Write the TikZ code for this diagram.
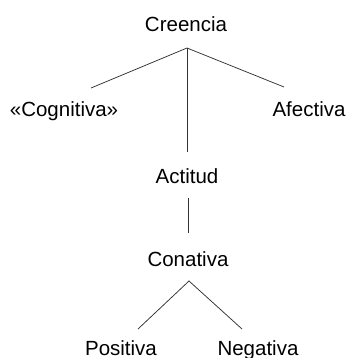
\documentclass[tikz,border=0pt]{standalone}
\usepackage{fontspec}
\setmainfont{Liberation Sans}
\tikzset{
  term/.style={anchor=base, inner sep=0pt, font=\fontsize{20.5}{23}\selectfont},
  rama/.style={line width=0.75pt, black!80}
}
\begin{document}
\begin{tikzpicture}[x=1pt, y=-1pt]
  \useasboundingbox (0,0) rectangle (349,358);
  % terms
  \node[term] (cre) at (186,32) {Creencia};
  \node[term] (cog) at (64,117) {«Cognitiva»};
  \node[term] (afe) at (309,117) {Afectiva};
  \node[term] (act) at (187,183) {Actitud};
  \node[term] (con) at (188,266) {Conativa};
  \node[term] (pos) at (121,355) {Positiva};
  \node[term] (neg) at (258,355) {Negativa};
  % branch points and free ends
  \coordinate (cre-v) at (187,48);
  \coordinate (cog-e) at (91,88);
  \coordinate (afe-e) at (284,87);
  \coordinate (act-n) at (187,152);
  \coordinate (act-s) at (188,198);
  \coordinate (con-n) at (188,233);
  \coordinate (con-v) at (189,281);
  \coordinate (pos-e) at (138,329);
  \coordinate (neg-e) at (242,329);
  \draw[rama] (cog-e) -- (cre-v) -- (afe-e);
  \draw[rama] (cre-v) -- (act-n);
  \draw[rama] (act-s) -- (con-n);
  \draw[rama] (pos-e) -- (con-v) -- (neg-e);
\end{tikzpicture}
\end{document}
